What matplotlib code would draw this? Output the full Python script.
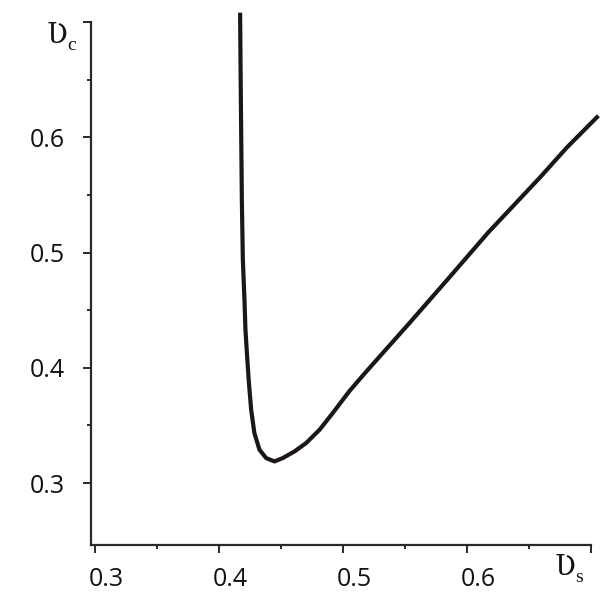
import matplotlib
matplotlib.use("Agg")
import matplotlib.pyplot as plt
import matplotlib.transforms as mtransforms
from matplotlib.ticker import FixedLocator

# Data (υs, υc)
v_s = [0.4170, 0.4176, 0.4184, 0.4192, 0.4205, 0.4213, 0.4223, 0.4239, 0.4259,
       0.4285, 0.4326, 0.4380, 0.4447, 0.4514, 0.4609, 0.4703, 0.4811, 0.4918,
       0.5053, 0.5188, 0.5538, 0.5862, 0.6171, 0.6589, 0.6805, 0.7048]
v_c = [0.7063, 0.6333, 0.5463, 0.4942, 0.4594, 0.4333, 0.4159, 0.3898, 0.3637,
       0.3435, 0.3290, 0.3217, 0.3188, 0.3217, 0.3275, 0.3348, 0.3463, 0.3609,
       0.3800, 0.3968, 0.4391, 0.4790, 0.5174, 0.5652, 0.5911, 0.6174]

x_ticks = [0.3, 0.4, 0.5, 0.6, 0.7]
x_tick_labels = ["0.3", "0.4", "0.5", "0.6", ""]
y_ticks = [0.3, 0.4, 0.5, 0.6, 0.7]
y_tick_labels = ["0.3", "0.4", "0.5", "0.6", ""]
minor_ticks = [0.35, 0.45, 0.55, 0.65]

W = H = 615
fig = plt.figure(figsize=(6.15, 6.15), dpi=100)
ax = fig.add_axes([90.7 / W, 1 - 545 / H, (591 - 90.7) / W, (545 - 22) / H])

ax.plot(v_s, v_c, color="#1c1519", lw=3.0, solid_joinstyle="round", clip_on=False)

ax.set_xlim(0.2965, 0.7)
ax.set_ylim(0.2463, 0.7)

for s in ["top", "right"]:
    ax.spines[s].set_visible(False)
for s in ["left", "bottom"]:
    ax.spines[s].set_linewidth(1.6)
    ax.spines[s].set_color("#2a2a2a")

ax.xaxis.set_major_locator(FixedLocator(x_ticks))
ax.yaxis.set_major_locator(FixedLocator(y_ticks))
ax.set_xticklabels(x_tick_labels)
ax.set_yticklabels(y_tick_labels)
ax.xaxis.set_minor_locator(FixedLocator(minor_ticks))
ax.yaxis.set_minor_locator(FixedLocator(minor_ticks))

ax.tick_params(which="major", direction="out", length=5.5, width=1.4, color="#2a2a2a",
               labelsize=18, labelcolor="#111111")
ax.tick_params(axis="x", which="major", pad=10)
ax.tick_params(axis="y", which="major", pad=13)
ax.tick_params(which="minor", direction="out", length=3.2, width=1.4, color="#2a2a2a")
for lab in ax.get_xticklabels() + ax.get_yticklabels():
    lab.set_fontfamily("Open Sans")

offset = mtransforms.ScaledTranslation(11 / 100, 0, fig.dpi_scale_trans)
for lab in ax.get_xticklabels():
    lab.set_transform(lab.get_transform() + offset)

serif = ["DejaVu Serif", "Liberation Serif"]
fig.text(47 / W, 1 - 43 / H, "\u01B2", family=serif, size=20, ha="left", va="baseline", color="#111111")
fig.text(67 / W, 1 - 50 / H, "c", family=["Liberation Serif"], size=14, ha="left", va="baseline", color="#111111")
fig.text(555 / W, 1 - 575 / H, "\u01B2", family=serif, size=20, ha="left", va="baseline", color="#111111")
fig.text(575 / W, 1 - 582 / H, "s", family=["Liberation Serif"], size=14, ha="left", va="baseline", color="#111111")

fig.savefig("out.png", dpi=100, facecolor="white")
